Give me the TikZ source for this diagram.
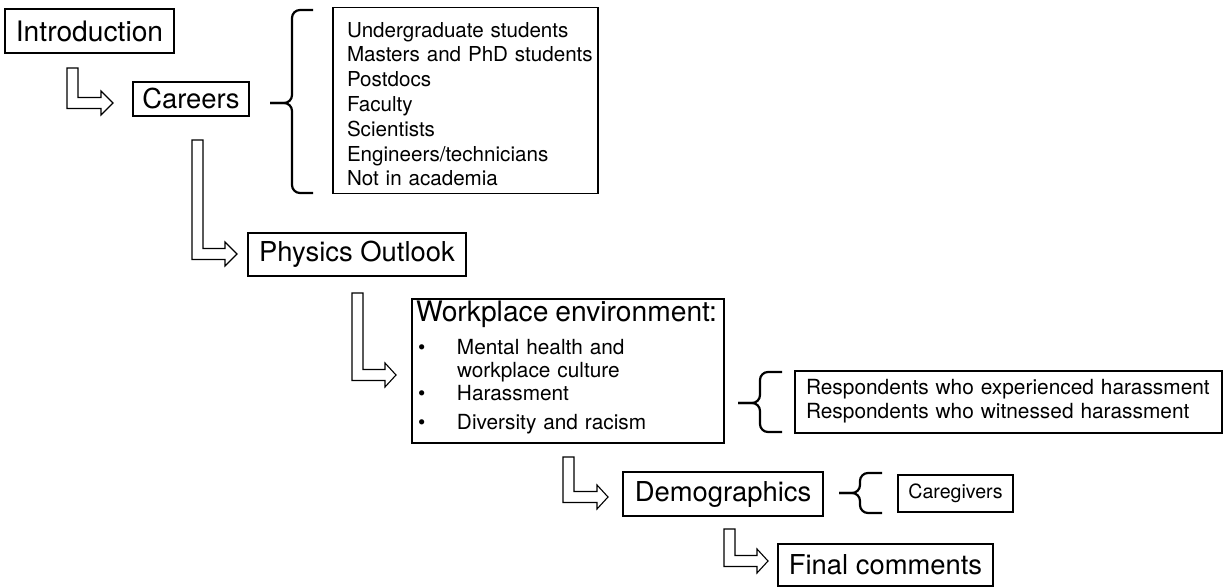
\documentclass[tikz,border=0pt]{standalone}
\usepackage{fontspec}
\setmainfont{TeX Gyre Heros}
\newcommand\fTitle{\fontsize{13.7}{16}\selectfont}
\newcommand\fBig{\fontsize{14.1}{16}\selectfont}
\newcommand\fList{\fontsize{10.3}{12.4}\selectfont\spaceskip=0.2em\relax}
\newcommand\fItem{\fontsize{10.4}{11.5}\selectfont}
\newcommand\fResp{\fontsize{10.43}{12}\selectfont}
\newcommand\fSmall{\fontsize{9.8}{11}\selectfont}
\newcommand\bul{\makebox[20.5pt][l]{\hspace{1pt}•}}
\newcommand\harrow[5]{%
  \draw[harrowstyle] (#1,#2) -- ({#1+11},#2) -- ({#1+11},{#3-5.5}) -- (#4,{#3-5.5})
    -- (#4,{#3-12}) -- (#5,#3) -- (#4,{#3+12}) -- (#4,{#3+5.5}) -- (#1,{#3+5.5}) -- cycle;}
\begin{document}
\begin{tikzpicture}[x=0.5pt,y=-0.5pt,
  tbox/.style={draw, line width=0.6pt, inner sep=0pt, font=\fTitle},
  lbox/.style={draw, line width=0.6pt, inner sep=0pt, align=left},
  harrowstyle/.style={draw, line width=0.55pt, line join=miter, fill=white},
  bracestyle/.style={draw, line width=1.1pt, rounded corners=4pt}]
\useasboundingbox (0,0) rectangle (1225,587);

\node[tbox, font=\fBig, minimum width=84.5pt, minimum height=22pt] (intro) at (89.5,31) {Introduction};
\node[tbox, minimum width=58pt, minimum height=17pt] (careers) at (191,99) {Careers};
\node[lbox, text width=132.5pt, minimum height=91.5pt, font=\fList] (list) at (465.5,100.5)
  {\begin{tabular}{@{\hspace{7pt}}l@{}}\rule{0pt}{14.68pt}Undergraduate students\\Masters and PhD students\\Postdocs\\Faculty\\Scientists\\Engineers/technicians\\Not in academia\end{tabular}};
\node[tbox, minimum width=109pt, minimum height=21.5pt] (physics) at (357,254.5) {Physics Outlook};
\node[lbox, text width=156pt, minimum height=72pt, font=\fItem] (work) at (568,371)
  {\begin{tabular}{@{\hspace{2pt}}l@{}}{\fBig Workplace environment:}\\[5pt]
   \bul Mental health and\\
   \hspace*{20.5pt}workplace culture\\
   \bul Harassment\\[3pt]
   \bul Diversity and racism\\[2.5pt]\end{tabular}};
\node[lbox, text width=213.5pt, minimum height=31pt, font=\fResp] (resp) at (1008.5,402)
  {\begin{tabular}{@{\hspace{5.5pt}}l@{}}Respondents who experienced harassment\\Respondents who witnessed harassment\end{tabular}};
\node[tbox, minimum width=100pt, minimum height=22pt] (demo) at (723,494) {Demographics};
\node[tbox, minimum width=57.5pt, minimum height=18.5pt, font=\fSmall] (care) at (955.5,493.5) {Caregivers};
\node[tbox, minimum width=107.5pt, minimum height=21pt] (final) at (885.5,565) {Final comments};

\harrow{67}{68}{103}{101}{113}
\harrow{192}{140}{254}{225}{237}
\harrow{352}{293}{375}{385}{396}
\harrow{563}{457}{497}{597}{608}
\harrow{724}{529}{561}{757}{768}

\draw[bracestyle] (313,10) -- (292,10) -- (292,103) -- (270,103);
\draw[bracestyle] (270,103) -- (292,103) -- (292,193) -- (313,193);
\draw[bracestyle] (782,372) -- (760,372) -- (760,403) -- (738,403);
\draw[bracestyle] (738,403) -- (760,403) -- (760,432) -- (782,432);
\draw[bracestyle] (882,473) -- (860,473) -- (860,493) -- (839,493);
\draw[bracestyle] (839,493) -- (860,493) -- (860,513) -- (882,513);
\end{tikzpicture}
\end{document}
